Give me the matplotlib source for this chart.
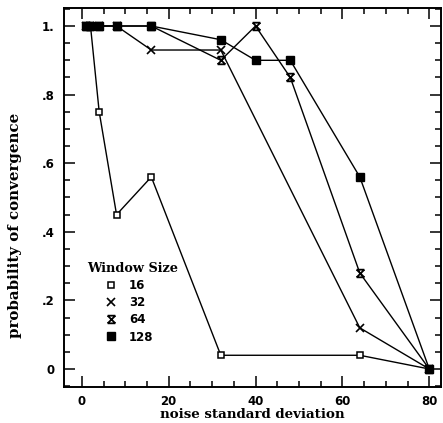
import matplotlib
matplotlib.use("Agg")
import matplotlib.pyplot as plt
from matplotlib.path import Path
from matplotlib.ticker import MultipleLocator, FixedLocator, FixedFormatter

# Data
noise_16 = [1, 2, 4, 8, 16, 32, 64, 80]
prob_16 = [1.0, 1.0, 0.75, 0.45, 0.56, 0.04, 0.04, 0.0]

noise_32 = [1, 2, 4, 8, 16, 32, 64, 80]
prob_32 = [1.0, 1.0, 1.0, 1.0, 0.93, 0.93, 0.12, 0.0]

noise_64 = [1, 2, 4, 8, 16, 32, 40, 48, 64, 80]
prob_64 = [1.0, 1.0, 1.0, 1.0, 1.0, 0.90, 1.0, 0.85, 0.28, 0.0]

noise_128 = [1, 2, 4, 8, 16, 32, 40, 48, 64, 80]
prob_128 = [1.0, 1.0, 1.0, 1.0, 1.0, 0.96, 0.90, 0.90, 0.56, 0.0]

x_ticks = [0, 20, 40, 60, 80]
x_ticklabels = ["0", "20", "40", "60", "80"]
y_ticks = [0, 0.2, 0.4, 0.6, 0.8, 1.0]
y_ticklabels = ["0", ".2", ".4", ".6", ".8", "1."]
legend_labels = ["16", "32", "64", "128"]

hourglass = Path(
    [(-1, 1), (1, -1), (1, 1), (-1, -1), (-1, 1), (1, 1), (-1, -1), (1, -1)],
    [Path.MOVETO, Path.LINETO, Path.MOVETO, Path.LINETO,
     Path.MOVETO, Path.LINETO, Path.MOVETO, Path.LINETO],
)

fig = plt.figure(figsize=(4.43, 4.23), dpi=100)
ax = fig.add_axes([64 / 443, 1 - 387 / 423, 377 / 443, 379 / 423])

lw = 1.0
l16, = ax.plot(noise_16, prob_16, color="black", lw=lw, marker="s", ms=5,
               mfc="white", mec="black", mew=1.1, zorder=3)
l32, = ax.plot(noise_32, prob_32, color="black", lw=lw, marker="x", ms=6,
               mew=1.2, zorder=4)
l64, = ax.plot(noise_64, prob_64, color="black", lw=lw, marker=hourglass, ms=5.5,
               mew=1.3, mfc="black", zorder=5)
l128, = ax.plot(noise_128, prob_128, color="black", lw=lw, marker="s", ms=5.5,
                mfc="black", mec="black", zorder=6)

ax.set_xlim(-4.1, 82.7)
ax.set_ylim(-0.0525, 1.0525)

ax.xaxis.set_major_locator(FixedLocator(x_ticks))
ax.xaxis.set_major_formatter(FixedFormatter(x_ticklabels))
ax.xaxis.set_minor_locator(MultipleLocator(5))
ax.yaxis.set_major_locator(FixedLocator(y_ticks))
ax.yaxis.set_major_formatter(FixedFormatter(y_ticklabels))
ax.yaxis.set_minor_locator(MultipleLocator(0.05))

ax.tick_params(which="both", direction="in", top=True, right=True,
               width=1.1, colors="black")
ax.tick_params(which="major", length=8)
ax.tick_params(which="minor", length=4)
ax.tick_params(axis="x", which="major", pad=6)
ax.tick_params(axis="y", which="major", pad=7)
for lab in ax.get_xticklabels() + ax.get_yticklabels():
    lab.set_fontfamily("DejaVu Sans")
    lab.set_fontweight("bold")
    lab.set_fontsize(8.5)

for sp in ax.spines.values():
    sp.set_linewidth(1.4)

ax.set_xlabel("noise standard deviation", fontfamily="DejaVu Serif",
              fontweight="bold", fontsize=9.6, labelpad=0)
fig.text(15 / 443, 1 - 225 / 423, "probability of convergence",
         rotation=90, ha="center", va="center", fontfamily="DejaVu Serif",
         fontweight="bold", fontsize=10.8)

leg = ax.legend([l16, l32, l64, l128], legend_labels, title="Window Size",
                frameon=False, loc="upper left",
                bbox_to_anchor=(23 / 377, 1 - 254 / 379),
                handlelength=0, handletextpad=1.5, labelspacing=0.35,
                borderpad=0, borderaxespad=0,
                prop={"family": "DejaVu Sans", "weight": "bold", "size": 8.5},
                title_fontproperties={"family": "DejaVu Serif",
                                      "weight": "bold", "size": 9.3})
for h in leg.legend_handles:
    h.set_linestyle("None")

fig.savefig("out.png", dpi=100)
